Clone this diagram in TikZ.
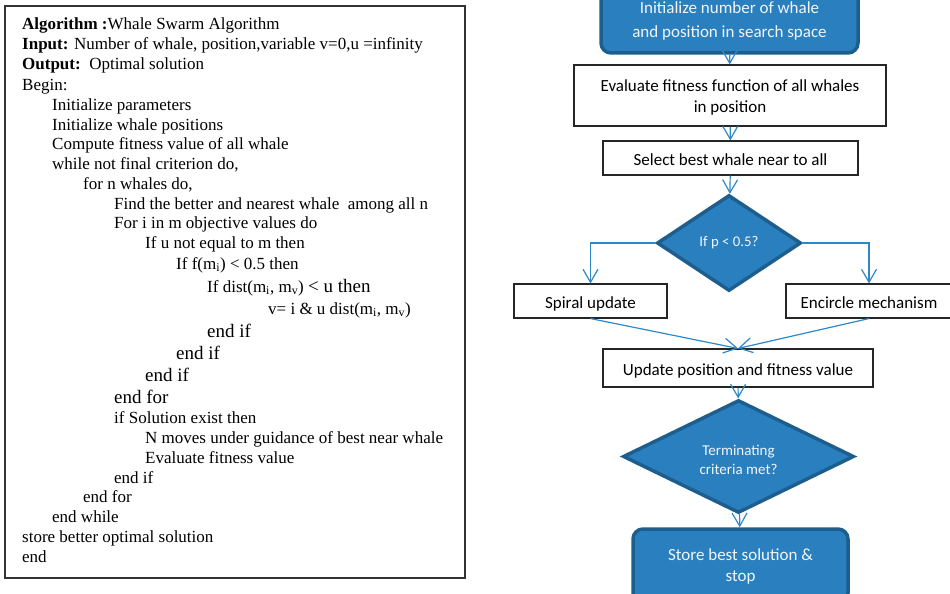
\documentclass[tikz,border=0pt]{standalone}
\usepackage{fontspec}
\setmainfont{Liberation Serif}
\newfontfamily\calibri{Carlito}
\usetikzlibrary{arrows.meta,shapes.geometric}

\definecolor{boxblue}{RGB}{42,128,190}
\definecolor{edgeblue}{RGB}{30,94,142}
\definecolor{linkblue}{RGB}{46,136,200}
\definecolor{lighttext}{RGB}{240,245,252}

\tikzset{
  codeline/.style={anchor=base west, inner sep=0pt, font=\fontsize{17}{20}\selectfont},
  bigline/.style={anchor=base west, inner sep=0pt, font=\fontsize{19}{22}\selectfont},
  plainbox/.style={draw=black!85, line width=1.1pt, fill=white, inner sep=0pt, align=center,
    font=\calibri\fontsize{17}{21}\selectfont},
  oneline/.style={text height=15pt, text depth=1pt},
  roundbox/.style={draw=edgeblue, line width=3.5pt, fill=boxblue, rounded corners=10pt,
    inner sep=0pt, align=center, text=lighttext},
  decision/.style={diamond, draw=edgeblue, line width=3.5pt, fill=boxblue, inner sep=0pt,
    align=center, text=lighttext},
  link/.style={draw=linkblue, line width=1.2pt,
    -{Straight Barb[length=13pt,width=15pt,line width=1.2pt]}}
}

\begin{document}
\begin{tikzpicture}[x=1pt,y=-1pt]
\useasboundingbox (0,0) rectangle (950,594);
\clip (0,0) rectangle (950,594);

% pseudocode panel
\node[draw=black!80, line width=1.1pt, minimum width=460pt, minimum height=572pt, inner sep=0pt]
  (frame) at (235,292) {};

\node[codeline] (c01) at (22,30) {\textbf{Algorithm :}Whale Swarm Algorithm};
\node[codeline] (c02) at (22,50) {\textbf{Input:} Number of whale, position,variable v=0,u =infinity};
\node[codeline] (c03) at (22,70) {\textbf{Output:}\ \ Optimal solution};
\node[codeline] (c04) at (22,90) {Begin:};
\node[codeline] (c05) at (52,110) {Initialize parameters};
\node[codeline] (c06) at (52,130) {Initialize whale positions};
\node[codeline] (c07) at (52,149) {Compute fitness value of all whale};
\node[codeline] (c08) at (52,169) {while not final criterion do,};
\node[codeline] (c09) at (83,189) {for n whales do,};
\node[codeline] (c10) at (114,209) {Find the better and nearest whale\ \ among all n};
\node[codeline] (c11) at (114,228) {For i in m objective values do};
\node[codeline] (c12) at (145,248) {If u not equal to m then};
\node[codeline] (c13) at (176,269) {If f(m\textsubscript{i}) < 0.5 then};
\node[codeline] (c14) at (207,292) {If dist(m\textsubscript{i}, m\textsubscript{v}) {\fontsize{19}{22}\selectfont < u then}};
\node[codeline] (c15) at (268,314) {v= i \& u dist(m\textsubscript{i}, m\textsubscript{v})};
\node[bigline]  (c16) at (207,337) {end if};
\node[bigline]  (c17) at (176,359) {end if};
\node[bigline]  (c18) at (145,381) {end if};
\node[bigline]  (c19) at (114,403) {end for};
\node[codeline] (c20) at (114,423) {if Solution exist then};
\node[codeline] (c21) at (145,443) {N moves under guidance of best near whale};
\node[codeline] (c22) at (145,463) {Evaluate fitness value};
\node[codeline] (c23) at (114,483) {end if};
\node[codeline] (c24) at (83,502) {end for};
\node[codeline] (c25) at (52,522) {end while};
\node[codeline] (c26) at (22,542) {store better optimal solution};
\node[codeline] (c27) at (22,562) {end};

% flowchart
\node[roundbox, minimum width=257pt, minimum height=64pt, text height=33pt, text depth=0pt,
  font=\calibri\fontsize{17}{24}\selectfont] (init) at (729.5,21)
  {Initialize number of whale\\and position in search space};
\node[plainbox, minimum width=312pt, minimum height=61pt, text height=33pt, text depth=0pt]
  (eval) at (730,95.5)
  {Evaluate fitness function of all whales\\in position};
\node[plainbox, oneline, minimum width=255pt, minimum height=34pt] (select) at (730.5,158)
  {Select best whale near to all};
\node[decision, minimum width=144pt, minimum height=96pt,
  font=\calibri\fontsize{14.8}{17}\selectfont] (p05) at (729,243) {If p < 0.5?};
\node[plainbox, oneline, minimum width=153pt, minimum height=34pt] (spiral) at (590.5,301)
  {Spiral update};
\node[plainbox, oneline, minimum width=166pt, minimum height=34pt] (encircle) at (869,301)
  {Encircle mechanism};
\node[plainbox, oneline, minimum width=270pt, minimum height=38pt] (update) at (738,368)
  {Update position and fitness value};
\node[decision, minimum width=231pt, minimum height=105pt, text height=35pt, text depth=0pt,
  font=\calibri\fontsize{15}{19}\selectfont] (term) at (738.5,456.5)
  {Terminating\\criteria met?};
\node[roundbox, minimum width=215pt, minimum height=74pt, text height=31pt, text depth=0pt,
  font=\calibri\fontsize{17}{21}\selectfont] (store) at (740.5,566)
  {Store best solution \&\\stop};

\draw[link] (init) -- (eval);
\draw[link] (eval) -- (select);
\draw[link] (select) -- (p05);
\draw[link] (p05.west) -| (spiral.north);
\draw[link] (p05.east) -| (encircle.north);
\draw[link] (spiral.south) -- (update.north);
\draw[link] (encircle.south) -- (update.north);
\draw[link] (update) -- (term);
\draw[link] (term) -- (store);
\end{tikzpicture}
\end{document}
